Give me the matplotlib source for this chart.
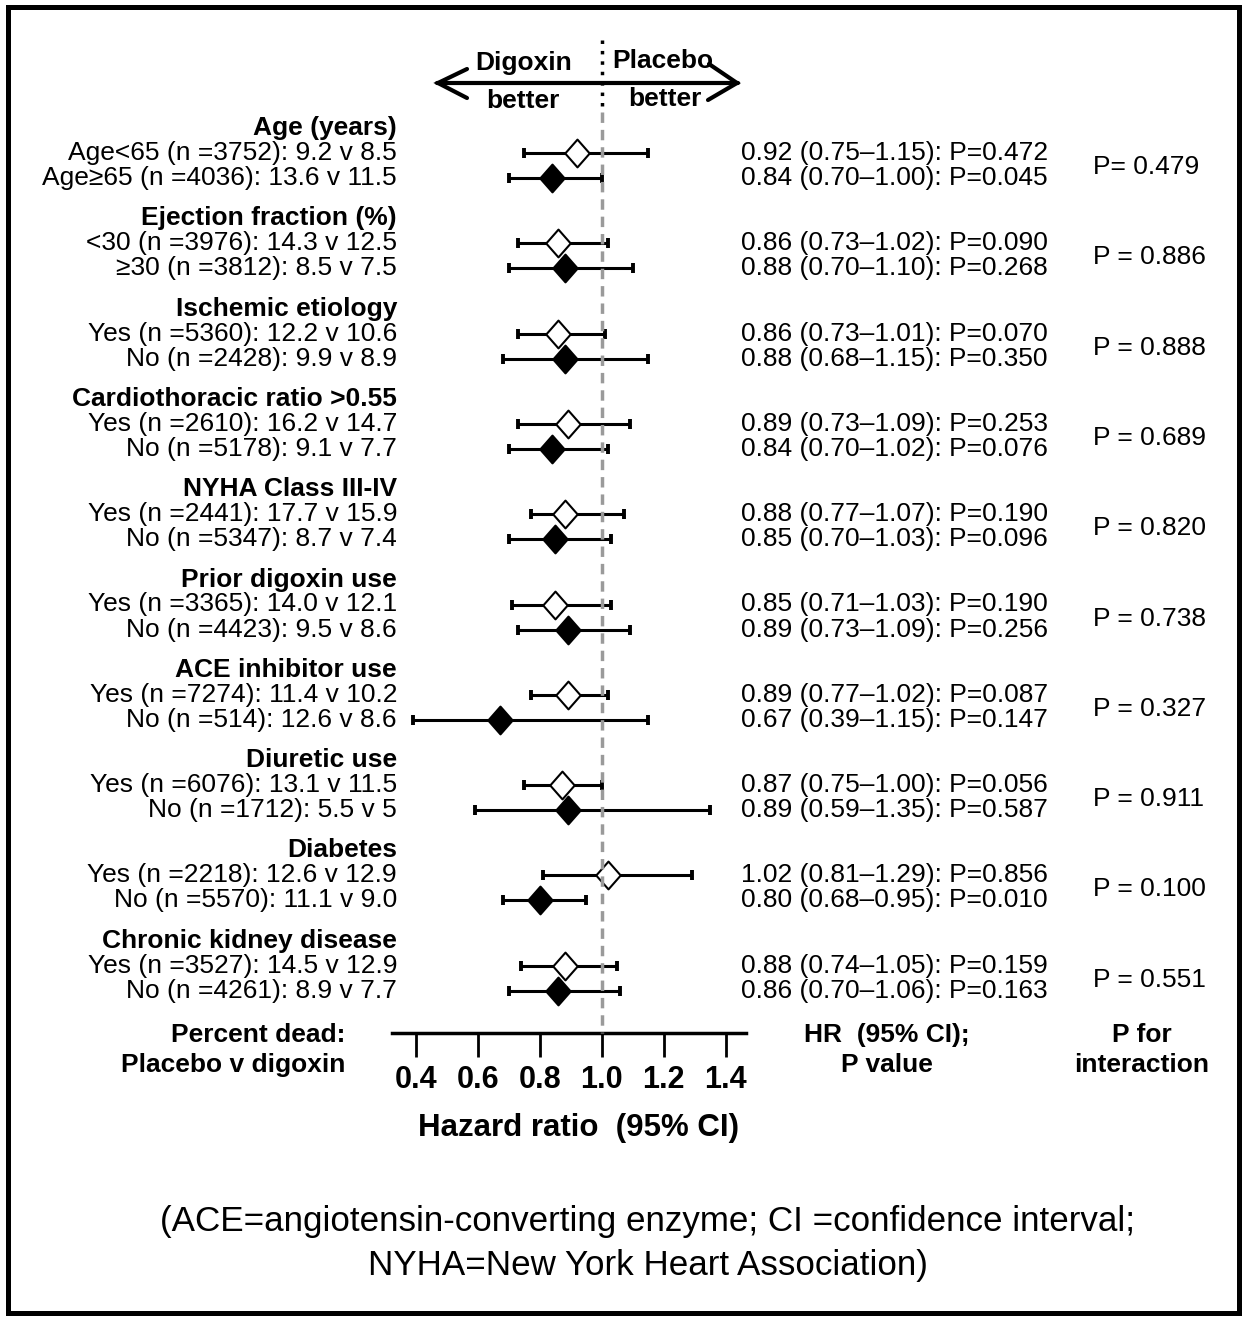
import numpy as np
import matplotlib
matplotlib.use("Agg")
import matplotlib.pyplot as plt
from matplotlib.path import Path
from matplotlib.patches import Rectangle

plt.rcParams['font.family'] = ['Liberation Sans', 'DejaVu Sans']

# Data
groups = ["Age (years)", "Ejection fraction (%)", "Ischemic etiology",
          "Cardiothoracic ratio >0.55", "NYHA Class III-IV", "Prior digoxin use",
          "ACE inhibitor use", "Diuretic use", "Diabetes", "Chronic kidney disease"]
sub_labels = ["Age<65", "Age\u226565", "<30", "\u226530", "Yes", "No", "Yes", "No",
              "Yes", "No", "Yes", "No", "Yes", "No", "Yes", "No", "Yes", "No", "Yes", "No"]
n_pts = [3752, 4036, 3976, 3812, 5360, 2428, 2610, 5178, 2441, 5347,
         3365, 4423, 7274, 514, 6076, 1712, 2218, 5570, 3527, 4261]
pct_placebo = ["9.2", "13.6", "14.3", "8.5", "12.2", "9.9", "16.2", "9.1", "17.7", "8.7",
               "14.0", "9.5", "11.4", "12.6", "13.1", "5.5", "12.6", "11.1", "14.5", "8.9"]
pct_digoxin = ["8.5", "11.5", "12.5", "7.5", "10.6", "8.9", "14.7", "7.7", "15.9", "7.4",
               "12.1", "8.6", "10.2", "8.6", "11.5", "5", "12.9", "9.0", "12.9", "7.7"]
hr = [0.92, 0.84, 0.86, 0.88, 0.86, 0.88, 0.89, 0.84, 0.88, 0.85,
      0.85, 0.89, 0.89, 0.67, 0.87, 0.89, 1.02, 0.80, 0.88, 0.86]
ci_lo = [0.75, 0.70, 0.73, 0.70, 0.73, 0.68, 0.73, 0.70, 0.77, 0.70,
         0.71, 0.73, 0.77, 0.39, 0.75, 0.59, 0.81, 0.68, 0.74, 0.70]
ci_hi = [1.15, 1.00, 1.02, 1.10, 1.01, 1.15, 1.09, 1.02, 1.07, 1.03,
         1.03, 1.09, 1.02, 1.15, 1.00, 1.35, 1.29, 0.95, 1.05, 1.06]
p_val = [0.472, 0.045, 0.090, 0.268, 0.070, 0.350, 0.253, 0.076, 0.190, 0.096,
         0.190, 0.256, 0.087, 0.147, 0.056, 0.587, 0.856, 0.010, 0.159, 0.163]
p_int = [0.479, 0.886, 0.888, 0.689, 0.820, 0.738, 0.327, 0.911, 0.100, 0.551]
ticks = [0.4, 0.6, 0.8, 1.0, 1.2, 1.4]

W, H = 1246, 1317
fig = plt.figure(figsize=(W / 100, H / 100), dpi=100)

# base axes in pixel units for text
ax0 = fig.add_axes([0, 0, 1, 1])
ax0.set_xlim(0, W)
ax0.set_ylim(H, 0)
ax0.axis('off')

# forest axes, y in the same pixel units
ax_top, ax_bot, ax_l, ax_r = 40, 1033, 392, 746
ax = fig.add_axes([ax_l / W, (H - ax_bot) / H, (ax_r - ax_l) / W, (ax_bot - ax_top) / H])
ax.set_xlim(0.323, 1.465)
ax.set_ylim(ax_bot, ax_top)
ax.patch.set_alpha(0)
for s in ['top', 'left', 'right']:
    ax.spines[s].set_visible(False)
ax.spines['bottom'].set_linewidth(2.5)
ax.set_yticks([])
ax.set_xticks(ticks)
ax.set_xticklabels([f"{t:.1f}" for t in ticks], fontsize=22, fontweight='bold')
ax.tick_params(axis='x', direction='out', length=17, width=2, pad=6)

diamond = Path([(0, -1), (0.88, 0), (0, 1), (-0.88, 0), (0, -1)],
               [Path.MOVETO, Path.LINETO, Path.LINETO, Path.LINETO, Path.CLOSEPOLY])

g0, gstep = 128, 90.3
fs = 19
for g, name in enumerate(groups):
    gy = g0 + g * gstep
    ax0.text(397, gy, name, ha='right', va='center', fontsize=fs, fontweight='bold')
    for k in range(2):
        i = 2 * g + k
        y = gy + 25 * (k + 1)
        ax0.text(397, y, f"{sub_labels[i]} (n ={n_pts[i]}): {pct_placebo[i]} v {pct_digoxin[i]}",
                 ha='right', va='center', fontsize=fs)
        ax0.text(741, y, f"{hr[i]:.2f} ({ci_lo[i]:.2f}\u2013{ci_hi[i]:.2f}): P={p_val[i]:.3f}",
                 ha='left', va='center', fontsize=fs)
        ax.errorbar([hr[i]], [y], xerr=[[hr[i] - ci_lo[i]], [ci_hi[i] - hr[i]]],
                    fmt='none', ecolor='black', elinewidth=2.2, capsize=3.5, capthick=2.8,
                    zorder=2)
        ax.plot([hr[i]], [y], marker=diamond, markersize=20,
                markerfacecolor='white' if k == 0 else 'black',
                markeredgecolor='black', markeredgewidth=1.5, zorder=3)
    ax0.text(1093, gy + 39, ("P= " if g == 0 else "P = ") + f"{p_int[g]:.3f}",
             ha='left', va='center', fontsize=fs)

# reference line at HR = 1
ax.plot([1.0, 1.0], [112, ax_bot], color='#9a9a9a', lw=2.5, ls=(0, (3, 2)), zorder=4,
        clip_on=False)
ax.plot([1.0, 1.0], [40, 112], color='black', lw=2.5, ls=(0, (1, 2)), zorder=4,
        clip_on=False)

# header arrow
ax0.plot([437, 738], [83, 83], color='black', lw=3, solid_capstyle='round')
ax0.plot([467, 438, 467], [69, 83, 98], color='black', lw=3, solid_capstyle='round',
         solid_joinstyle='miter')
ax0.plot([709, 737, 708], [64, 83, 100], color='black', lw=3, solid_capstyle='round',
         solid_joinstyle='miter')
ax0.text(524, 63, "Digoxin", ha='center', va='center', fontsize=fs, fontweight='bold')
ax0.text(523, 101, "better", ha='center', va='center', fontsize=fs, fontweight='bold')
ax0.text(663, 61, "Placebo", ha='center', va='center', fontsize=fs, fontweight='bold')
ax0.text(665, 99, "better", ha='center', va='center', fontsize=fs, fontweight='bold')

# bottom labels
ax0.text(345, 1035, "Percent dead:", ha='right', va='center', fontsize=fs, fontweight='bold')
ax0.text(345, 1065, "Placebo v digoxin", ha='right', va='center', fontsize=fs, fontweight='bold')
ax0.text(887, 1035, "HR  (95% CI);", ha='center', va='center', fontsize=fs, fontweight='bold')
ax0.text(887, 1065, "P value", ha='center', va='center', fontsize=fs, fontweight='bold')
ax0.text(1142, 1035, "P for", ha='center', va='center', fontsize=fs, fontweight='bold')
ax0.text(1142, 1065, "interaction", ha='center', va='center', fontsize=fs, fontweight='bold')
ax0.text(579, 1128, "Hazard ratio  (95% CI)", ha='center', va='center', fontsize=22.5,
         fontweight='bold')

# footnote
ax0.text(648, 1222, "(ACE=angiotensin-converting enzyme; CI =confidence interval;",
         ha='center', va='center', fontsize=25.2)
ax0.text(648, 1265, "NYHA=New York Heart Association)", ha='center', va='center', fontsize=25.2)

# border
ax0.add_patch(Rectangle((8, 7), 1231, 1306, fill=False, lw=3.6, edgecolor='black'))

fig.savefig("out.png", dpi=100)
